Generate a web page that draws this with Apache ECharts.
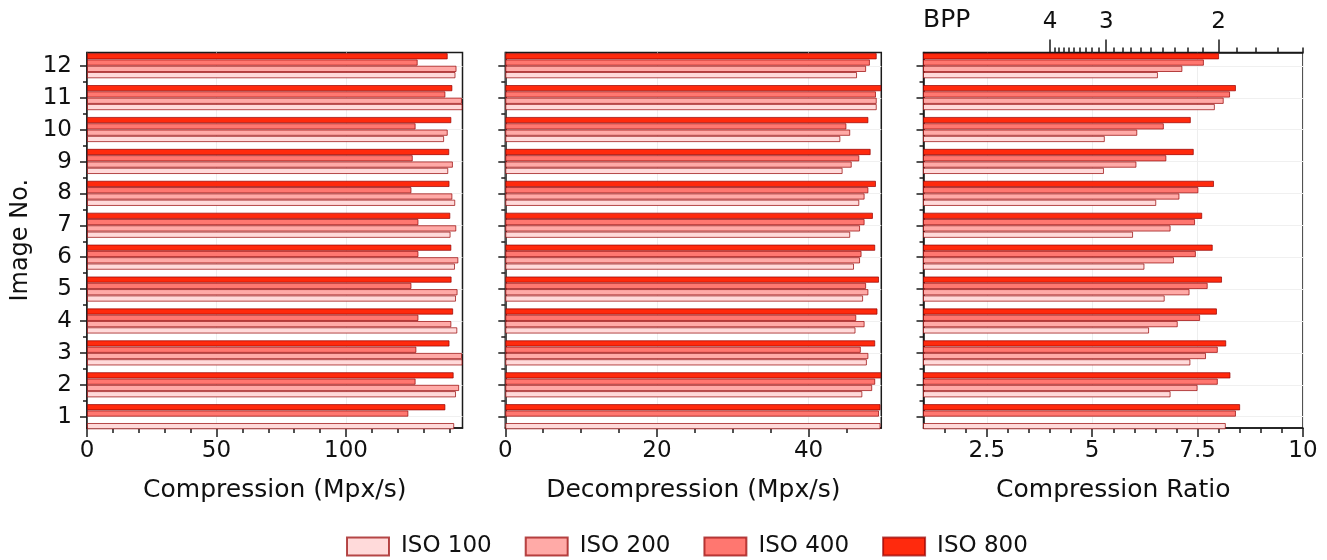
<!DOCTYPE html>
<html><head><meta charset="utf-8">
<script src="https://cdn.jsdelivr.net/npm/echarts@6/dist/echarts.min.js"></script>
<style>html,body{margin:0;padding:0;background:#fff}#c{width:1327px;height:560px}</style>
</head><body><div id="c"></div>
<script>
// ---------- data ----------
const images = ['1','2','3','4','5','6','7','8','9','10','11','12'];
const isoNames = ['ISO 100','ISO 200','ISO 400','ISO 800'];

const compIso100 = [141.8, 142.5, 145.0, 143.0, 142.5, 142.1, 140.4, 142.2, 139.5, 137.9, 145.0, 142.3];
const compIso200 = [null, 143.7, 144.8, 140.7, 143.1, 143.4, 142.6, 141.1, 141.3, 139.3, 144.8, 142.7];
const compIso400 = [124.1, 126.9, 127.2, 128.0, 125.3, 128.0, 128.0, 125.3, 125.8, 126.9, 138.4, 127.7];
const compIso800 = [138.4, 141.6, 140.0, 141.4, 140.8, 140.7, 140.3, 140.0, 139.9, 140.7, 141.1, 139.3];

const decIso100 = [49.5, 47.1, 47.7, 46.2, 47.2, 46.0, 45.5, 46.7, 44.5, 44.2, 49.0, 46.4];
const decIso200 = [null, 48.4, 47.9, 47.4, 47.9, 46.8, 46.8, 47.4, 45.7, 45.5, 49.0, 47.6];
const decIso400 = [49.3, 48.8, 46.9, 46.3, 47.6, 47.0, 47.4, 47.9, 46.7, 45.0, 48.9, 48.1];
const decIso800 = [49.5, 49.6, 48.8, 49.1, 49.3, 48.8, 48.5, 48.9, 48.2, 47.9, 49.6, 49.0];

const crIso100 = [8.17, 6.86, 7.33, 6.35, 6.72, 6.24, 5.97, 6.52, 5.28, 5.30, 7.91, 6.56];
const crIso200 = [null, 7.50, 7.70, 7.03, 7.31, 6.94, 6.86, 7.07, 6.05, 6.07, 8.12, 7.14];
const crIso400 = [8.41, 7.98, 7.98, 7.56, 7.74, 7.46, 7.44, 7.52, 6.76, 6.70, 8.27, 7.65];
const crIso800 = [8.51, 8.28, 8.18, 7.96, 8.08, 7.86, 7.61, 7.89, 7.41, 7.34, 8.41, 8.01];

// tick values
const compTicks = [0, 50, 100];
const compMinorTicks = [0, 10, 20, 30, 40, 50, 60, 70, 80, 90, 100, 110, 120, 130, 140];
const decTicks = [0, 20, 40];
const decMinorTicks = [0, 5, 10, 15, 20, 25, 30, 35, 40, 45];
const crTicks = [2.5, 5, 7.5, 10];
const crMinorTicks = [1.5, 2, 2.5, 3, 3.5, 4, 4.5, 5, 5.5, 6, 6.5, 7, 7.5, 8, 8.5, 9, 9.5, 10];
const bppTicks = [4, 3, 2];
const bppMinorTicks = [4, 3.9, 3.8, 3.7, 3.6, 3.5, 3.4, 3.3, 3.2, 3.1, 3, 2.9, 2.8, 2.7, 2.6, 2.5, 2.4, 2.3, 2.2, 2.1, 2, 1.9, 1.8, 1.7, 1.6];
const rawBits = 16;
const imageTicks = [1, 2, 3, 4, 5, 6, 7, 8, 9, 10, 11, 12];
const imageMinorTicks = [1.5, 2.5, 3.5, 4.5, 5.5, 6.5, 7.5, 8.5, 9.5, 10.5, 11.5];

// ---------- styling ----------
const FONT = 'DejaVu Sans';
const colors = ['#ffdada', '#ffaaa7', '#ff7770', '#ff2a0d'];
const borderCol = 'rgba(150,0,0,0.7)';
const axisCol = '#1a1a1a';

const panels = [
  {left: 87, right: 864.5, min: 0, max: 145, major: compTicks, minor: compMinorTicks,
   name: 'Compression (Mpx/s)', data: [compIso100, compIso200, compIso400, compIso800]},
  {left: 505.3, right: 445.7, min: 0, max: 49.6, major: decTicks, minor: decMinorTicks,
   name: 'Decompression (Mpx/s)', data: [decIso100, decIso200, decIso400, decIso800]},
  {left: 923.5, right: 24, min: 1, max: 10, major: crTicks, minor: crMinorTicks,
   name: 'Compression Ratio', data: [crIso100, crIso200, crIso400, crIso800]}
];

const frameTop = 52.5, frameBottom = 132;
const barTop = 49.75, barBottom = 127.35;
const yMin = 0.646, yMax = 12.42;

const grid = [], xAxis = [], yAxis = [], series = [];
const lineStyle = {color: axisCol, width: 1.5};

panels.forEach((p, pi) => {
  const gFrame = grid.length;
  grid.push({left: p.left, right: p.right, top: frameTop, bottom: frameBottom,
             show: true, borderColor: axisCol, borderWidth: 1.5, backgroundColor: 'transparent'});
  const gBar = grid.length;
  grid.push({left: p.left, right: p.right, top: barTop, bottom: barBottom});

  // bottom x axes
  xAxis.push({type: 'value', gridIndex: gFrame, min: p.min, max: p.max, position: 'bottom',
    name: p.name, nameLocation: 'middle', nameGap: 50,
    nameTextStyle: {fontFamily: FONT, fontSize: 25, color: '#111'},
    axisLine: {show: true, onZero: false, lineStyle},
    axisTick: {show: true, customValues: p.major, length: 9, lineStyle},
    axisLabel: {show: true, customValues: p.major, margin: 12, fontFamily: FONT, fontSize: 23, color: '#111'},
    splitLine: {show: true, lineStyle: {color: '#eeeeee', width: 1}}});
  xAxis.push({type: 'value', gridIndex: gFrame, min: p.min, max: p.max, position: 'bottom',
    axisLine: {show: false}, axisTick: {show: true, customValues: p.minor, length: 5, lineStyle},
    axisLabel: {show: false}, splitLine: {show: false}});
  if (pi === 2) {
    xAxis.push({type: 'value', gridIndex: gFrame, min: p.min, max: p.max, position: 'top',
      axisLine: {show: true, onZero: false, lineStyle},
      axisTick: {show: true, customValues: bppTicks.map(b => rawBits / b), length: 13, lineStyle},
      axisLabel: {show: true, customValues: bppTicks.map(b => rawBits / b), margin: 19,
        formatter: v => String(Math.round(rawBits / v)), fontFamily: FONT, fontSize: 23, color: '#111'},
      splitLine: {show: false}});
    xAxis.push({type: 'value', gridIndex: gFrame, min: p.min, max: p.max, position: 'top',
      axisLine: {show: false},
      axisTick: {show: true, customValues: bppMinorTicks.map(b => rawBits / b), length: 5, lineStyle},
      axisLabel: {show: false}, splitLine: {show: false}});
  }
  const xBar = xAxis.length;
  xAxis.push({type: 'value', gridIndex: gBar, min: p.min, max: p.max, show: false});

  // y axes
  yAxis.push({type: 'value', gridIndex: gFrame, min: yMin, max: yMax, position: 'left',
    name: pi === 0 ? 'Image No.' : '', nameLocation: 'middle', nameGap: 54,
    nameTextStyle: {fontFamily: FONT, fontSize: 24, color: '#111'},
    axisLine: {show: true, onZero: false, lineStyle},
    axisTick: {show: true, customValues: imageTicks, length: 7, lineStyle},
    axisLabel: {show: pi === 0, customValues: imageTicks, margin: 15,
      formatter: v => images[v - 1], fontFamily: FONT, fontSize: 23, color: '#111'},
    splitLine: {show: true, lineStyle: {color: '#f0f0f0', width: 1}}});
  yAxis.push({type: 'value', gridIndex: gFrame, min: yMin, max: yMax, position: 'left',
    axisLine: {show: false}, axisTick: {show: true, customValues: imageMinorTicks, length: 4, lineStyle},
    axisLabel: {show: false}, splitLine: {show: false}});
  const yBar = yAxis.length;
  yAxis.push({type: 'category', gridIndex: gBar, data: images, show: false});

  // ISO 800 first so it is drawn on top of each group, ISO 100 at the bottom
  for (let k = p.data.length - 1; k >= 0; k--) {
    series.push({type: 'bar', name: isoNames[k], xAxisIndex: xBar, yAxisIndex: yBar,
      data: p.data[k], barGap: '0%', barCategoryGap: '21%', clip: true,
      itemStyle: {color: colors[k], borderColor: borderCol, borderWidth: 1}});
  }
});

const chart = echarts.init(document.getElementById('c'), null, {renderer: 'canvas'});
chart.setOption({
  animation: false,
  backgroundColor: '#fff',
  title: {text: 'BPP', left: 923, top: 8, padding: 0,
          textStyle: {fontFamily: FONT, fontSize: 25, fontWeight: 'normal', color: '#111'}},
  legend: {data: isoNames, left: 346, top: 535, padding: 0, itemWidth: 42, itemHeight: 18, itemGap: 33,
           icon: 'rect', textStyle: {fontFamily: FONT, fontSize: 23, color: '#111', padding: [0, 0, 0, 7]}},
  grid, xAxis, yAxis, series
});
</script></body></html>
